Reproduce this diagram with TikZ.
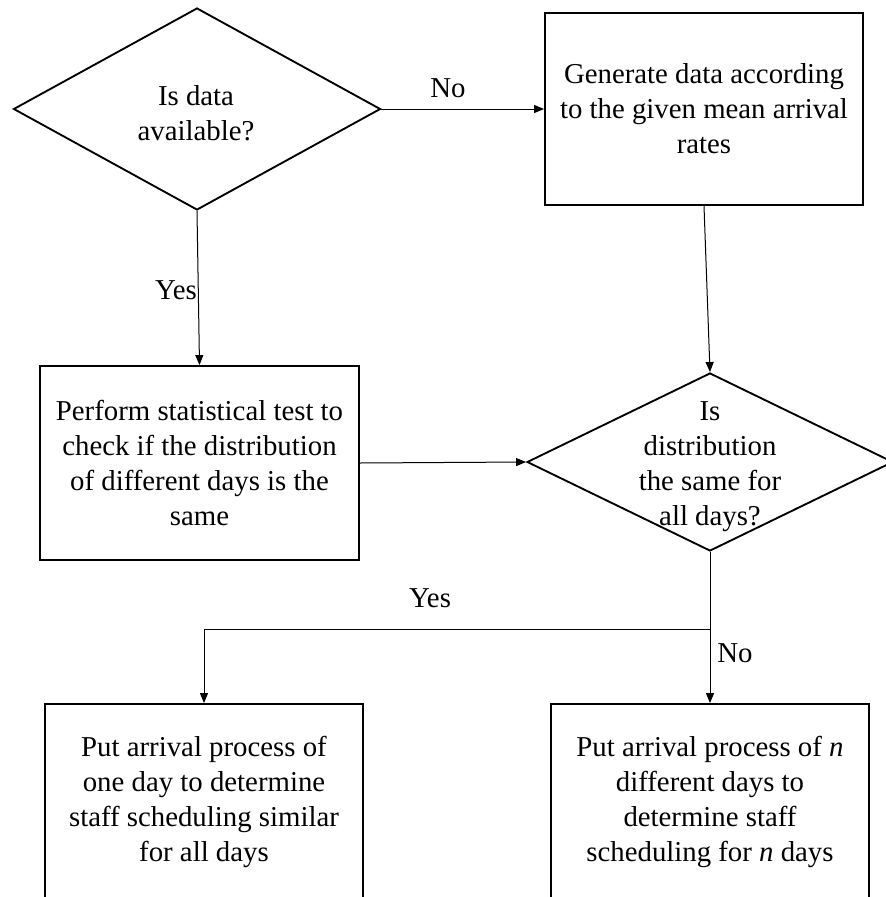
\documentclass[tikz,border=0pt]{standalone}
\usepackage{fontspec}
\setmainfont{Liberation Serif}
\usetikzlibrary{arrows.meta,positioning,shapes.geometric}

\begin{document}
\begin{tikzpicture}[x=0.75pt, y=-0.75pt,
    every node/.style={font=\fontsize{21.6pt}{26.25pt}\selectfont},
    decision/.style={diamond, draw, line width=1.4pt, inner sep=0pt},
    process/.style={rectangle, draw, line width=1.4pt, inner sep=0pt, align=center},
    txt/.style={align=center, inner sep=0pt},
    flow/.style={line width=0.75pt, -{Triangle[length=7.5pt,width=6pt]}},
    flowline/.style={line width=0.75pt}]
\useasboundingbox (0,0) rectangle (886,897);

% decisions
\node[decision, minimum width=275.25pt, minimum height=151.5pt] (avail) at (197,109) {};
\node[txt] (availtxt) at (196,113) {Is data\\available?};
\node[decision, minimum width=274.5pt, minimum height=133.5pt] (samedist) at (710,462) {};
\node[txt] (sametxt) at (710,467) {Is\\distribution\\the same for\\all days?};

% processes
\node[process, minimum width=238.5pt, minimum height=144pt] (gendata) at (704,109)
    {Generate data according\\to the given mean arrival\\rates};
\node[process, minimum width=239.25pt, minimum height=145.5pt] (stattest) at (199.5,463)
    {Perform statistical test to\\check if the distribution\\of different days is the\\same};
\node[process, minimum width=238.5pt, minimum height=147pt] (oneday) at (204,802)
    {Put arrival process of\\one day to determine\\staff scheduling similar\\for all days};
\node[process, minimum width=238.5pt, minimum height=147pt] (ndays) at (710,802)
    {Put arrival process of \textit{n}\\different days to\\determine staff\\scheduling for \textit{n} days};

% branch labels
\node[txt] (nogen) at (448,88) {No};
\node[txt] (yestest) at (176,290) {Yes};
\node[txt] (yesone) at (430,598) {Yes};
\node[txt] (non) at (735,653) {No};

\coordinate (split) at (710,629);

\draw[flow] (avail.east) -- (gendata.west);
\draw[flow] (avail.south) -- (stattest.north);
\draw[flow] (gendata.south) -- (samedist.north);
\draw[flow] (stattest.east) -- (samedist.west);
\draw[flowline] (samedist.south) -- (split);
\draw[flow] (split) -| (oneday.north);
\draw[flow] (split) -- (ndays.north);
\end{tikzpicture}
\end{document}
